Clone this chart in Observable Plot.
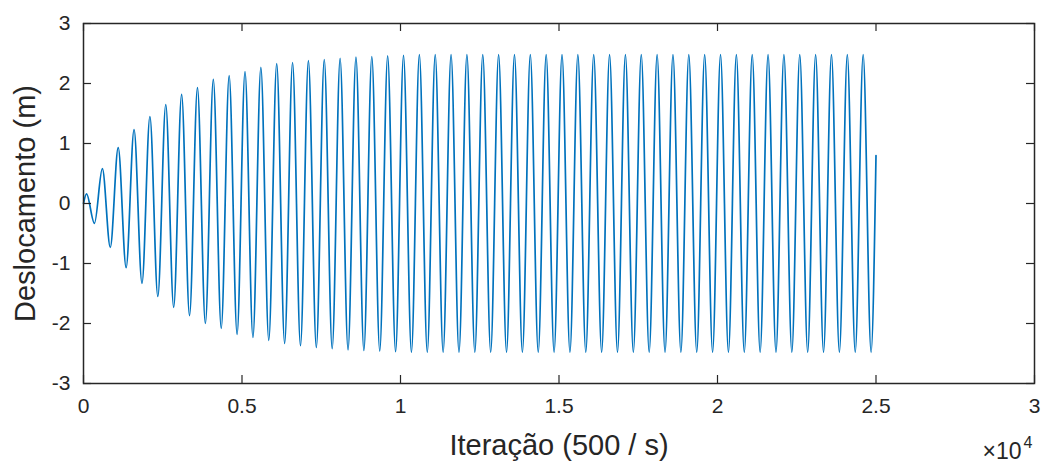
<!DOCTYPE html>
<html>
<head>
<meta charset="utf-8">
<script src="https://cdn.jsdelivr.net/npm/d3@7"></script>
<script src="https://cdn.jsdelivr.net/npm/@observablehq/plot@0.6"></script>
<style>
  html, body { margin: 0; padding: 0; background: #fff; }
  #chart svg { display: block; }
</style>
</head>
<body>
<div id="chart"></div>
<script>
// Iteration index of each turning point
const iteracao = [0, 95, 345, 595, 845, 1095, 1345, 1595, 1845, 2095, 2345, 2595, 2845, 3095, 3345, 3595, 3845, 4095, 4345, 4595, 4845, 5095, 5345, 5595, 5845, 6095, 6345, 6595, 6845, 7095, 7345, 7595, 7845, 8095, 8345, 8595, 8845, 9095, 9345, 9595, 9845, 10095, 10345, 10595, 10845, 11095, 11345, 11595, 11845, 12095, 12345, 12595, 12845, 13095, 13345, 13595, 13845, 14095, 14345, 14595, 14845, 15095, 15345, 15595, 15845, 16095, 16345, 16595, 16845, 17095, 17345, 17595, 17845, 18095, 18345, 18595, 18845, 19095, 19345, 19595, 19845, 20095, 20345, 20595, 20845, 21095, 21345, 21595, 21845, 22095, 22345, 22595, 22845, 23095, 23345, 23595, 23845, 24095, 24345, 24595, 24845, 25000];
// Displacement (m) at each turning point
const deslocamento = [0, 0.16, -0.33, 0.58, -0.73, 0.93, -1.07, 1.23, -1.33, 1.45, -1.55, 1.65, -1.73, 1.82, -1.87, 1.93, -2.00, 2.07, -2.08, 2.13, -2.18, 2.20, -2.23, 2.27, -2.28, 2.33, -2.33, 2.35, -2.37, 2.38, -2.40, 2.40, -2.42, 2.42, -2.44, 2.44, -2.45, 2.45, -2.46, 2.46, -2.47, 2.47,
  -2.48, 2.48, -2.48, 2.48, -2.48, 2.48, -2.48, 2.48, -2.48, 2.48,
  -2.48, 2.48, -2.48, 2.48, -2.48, 2.48, -2.48, 2.48, -2.48, 2.48,
  -2.48, 2.48, -2.48, 2.48, -2.48, 2.48, -2.48, 2.48, -2.48, 2.48,
  -2.48, 2.48, -2.48, 2.48, -2.48, 2.48, -2.48, 2.48, -2.48, 2.48,
  -2.48, 2.48, -2.48, 2.48, -2.48, 2.48, -2.48, 2.48, -2.48, 2.48,
  -2.48, 2.48, -2.48, 2.48, -2.48, 2.48, -2.48, 2.48, -2.48,
  0.80];

const xTicks = [0, 5000, 10000, 15000, 20000, 25000, 30000];
const xTickLabels = ["0", "0.5", "1", "1.5", "2", "2.5", "3"];
const yTicks = [-3, -2, -1, 0, 1, 2, 3];
const yTickLabels = ["-3", "-2", "-1", "0", "1", "2", "3"];
const xLabel = "Iteração (500 / s)";
const yLabel = "Deslocamento (m)";
const xExponentBase = "×10";
const xExponent = "4";

const data = iteracao.map((t, i) => ({t, v: deslocamento[i]}));

const W = 1041, H = 464;
const mL = 83, mR = 7, mT = 23, mB = 81;
const plotW = W - mL - mR, plotH = H - mT - mB;
const tickLen = 8;
const axisColor = "#262626";
const font = "'Liberation Sans', Arial, Helvetica, sans-serif";

const chart = Plot.plot({
  width: W,
  height: H,
  marginLeft: mL,
  marginRight: mR,
  marginTop: mT,
  marginBottom: mB,
  style: {fontFamily: font, background: "#fff", color: axisColor},
  x: {domain: [0, 30000]},
  y: {domain: [-3, 3]},
  marks: [
    Plot.line(data, {x: "t", y: "v", stroke: "#0072BD", strokeWidth: 1.7, curve: "monotone-x"}),
    Plot.tickX(xTicks, {x: d => d, insetTop: plotH - tickLen, stroke: axisColor, strokeWidth: 1.2}),
    Plot.tickX(xTicks, {x: d => d, insetBottom: plotH - tickLen, stroke: axisColor, strokeWidth: 1.2}),
    Plot.tickY(yTicks, {y: d => d, insetRight: plotW - tickLen, stroke: axisColor, strokeWidth: 1.2}),
    Plot.tickY(yTicks, {y: d => d, insetLeft: plotW - tickLen, stroke: axisColor, strokeWidth: 1.2}),
    Plot.frame({stroke: axisColor, strokeWidth: 1.5}),
    Plot.axisX(xTicks, {tickSize: 0, tickPadding: 15, fontSize: 21, tickFormat: d => xTickLabels[xTicks.indexOf(d)], label: null, fill: axisColor}),
    Plot.axisY(yTicks, {tickSize: 0, tickPadding: 13, fontSize: 21, tickFormat: d => yTickLabels[yTicks.indexOf(d)], label: null, fill: axisColor}),
    Plot.text([xLabel], {frameAnchor: "bottom", dy: 71, lineAnchor: "bottom", fontSize: 29, fill: axisColor, text: d => d}),
    Plot.text([yLabel], {frameAnchor: "left", dx: -49, rotate: -90, lineAnchor: "bottom", textAnchor: "middle", fontSize: 29, fill: axisColor, text: d => d}),
    Plot.text([xExponentBase], {frameAnchor: "bottom-right", dx: -13, dy: 75, lineAnchor: "bottom", textAnchor: "end", fontSize: 23, fill: axisColor, text: d => d}),
    Plot.text([xExponent], {frameAnchor: "bottom-right", dx: -2, dy: 64, lineAnchor: "bottom", textAnchor: "end", fontSize: 16, fill: axisColor, text: d => d})
  ]
});

document.getElementById("chart").appendChild(chart);
</script>
</body>
</html>
